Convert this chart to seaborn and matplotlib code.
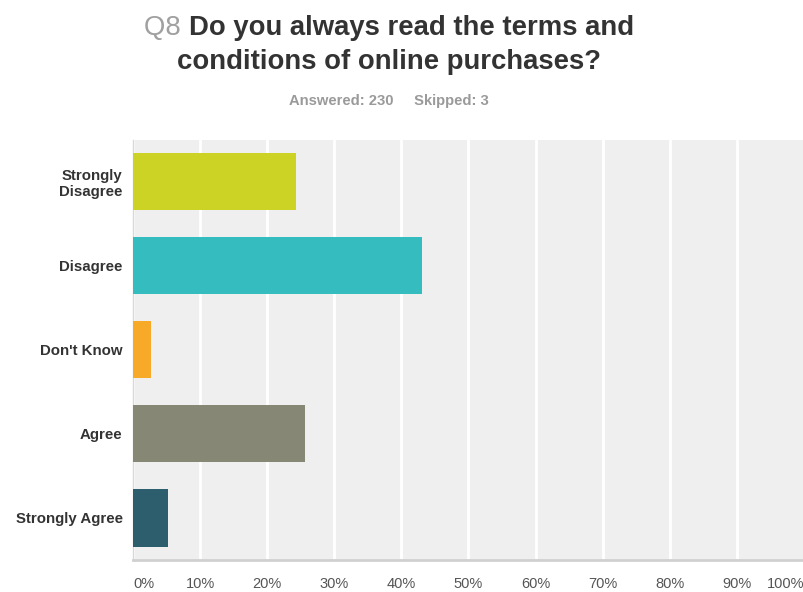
import matplotlib
matplotlib.use("Agg")
import matplotlib.pyplot as plt
import seaborn as sns
import pandas as pd

# Survey responses (percent of respondents)
answers = ["Strongly\nDisagree", "Disagree", "Don't Know", "Agree", "Strongly Agree"]
percent = [24.35, 43.04, 2.61, 25.65, 5.22]
bar_colors = ["#cdd325", "#35bcbf", "#f6aa28", "#878776", "#2d5e6d"]
tick_values = [0, 10, 20, 30, 40, 50, 60, 70, 80, 90, 100]
tick_labels = [f"{v}%" for v in tick_values]

question_num = "Q8"
question_line1 = "Do you always read the terms and"
question_line2 = "conditions of online purchases?"
answered_text = "Answered: 230     Skipped: 3"

sns.set_style("white")
plt.rcParams["font.family"] = ["Liberation Sans", "DejaVu Sans"]

df = pd.DataFrame({"answer": answers, "percent": percent})

fig = plt.figure(figsize=(8.04, 5.92), dpi=100)
ax = fig.add_axes([133 / 804, 32 / 592, 1 - 133 / 804, (560 - 139.5) / 592])
ax.set_facecolor("#efefef")

sns.barplot(data=df, x="percent", y="answer", hue="answer", palette=bar_colors,
            orient="h", width=0.68, legend=False, saturation=1, linewidth=0,
            ax=ax, zorder=3)

ax.set_xlim(0, 100)
ax.set_ylim(4.5, -0.5)
ax.set_xticks(tick_values)
ax.set_xticklabels(tick_labels)
ax.grid(axis="x", color="white", linewidth=2, zorder=1)
ax.set_axisbelow(True)
ax.set_xlabel("")
ax.set_ylabel("")

for side in ["top", "right"]:
    ax.spines[side].set_visible(False)
ax.spines["bottom"].set_color("#d0d0d0")
ax.spines["bottom"].set_linewidth(2)
ax.spines["left"].set_color("#d8d8d8")
ax.spines["left"].set_linewidth(1)

ax.tick_params(axis="x", length=0, pad=12, labelsize=10.5, labelcolor="#555555")
ax.tick_params(axis="y", length=0, pad=7.5, labelsize=10.8, labelcolor="#333333")
for lbl in ax.get_yticklabels():
    lbl.set_fontweight("bold")
    lbl.set_linespacing(1.15)
xl = ax.get_xticklabels()
xl[0].set_horizontalalignment("left")
xl[-1].set_horizontalalignment("right")

# Title: grey question number followed by bold question text
cx = 389 / 804
y1 = 1 - 28 / 592
y2 = 1 - 62 / 592
renderer = fig.canvas.get_renderer()
t_num = fig.text(0, y1, question_num + " ", fontsize=19.8, color="#a0a0a0",
                 va="center", ha="left")
t_q = fig.text(0, y1, question_line1, fontsize=19.8, color="#333333",
               fontweight="bold", va="center", ha="left")
w_num = t_num.get_window_extent(renderer).width / fig.bbox.width
w_q = t_q.get_window_extent(renderer).width / fig.bbox.width
start = cx - (w_num + w_q) / 2
t_num.set_x(start)
t_q.set_x(start + w_num)
fig.text(cx, y2, question_line2, fontsize=19.8, color="#333333",
         fontweight="bold", va="center", ha="center")
fig.text(cx, 1 - 101 / 592, answered_text, fontsize=10.6, color="#9a9a9a",
         fontweight="bold", va="center", ha="center")

fig.savefig("out.png", dpi=100, facecolor="white")
